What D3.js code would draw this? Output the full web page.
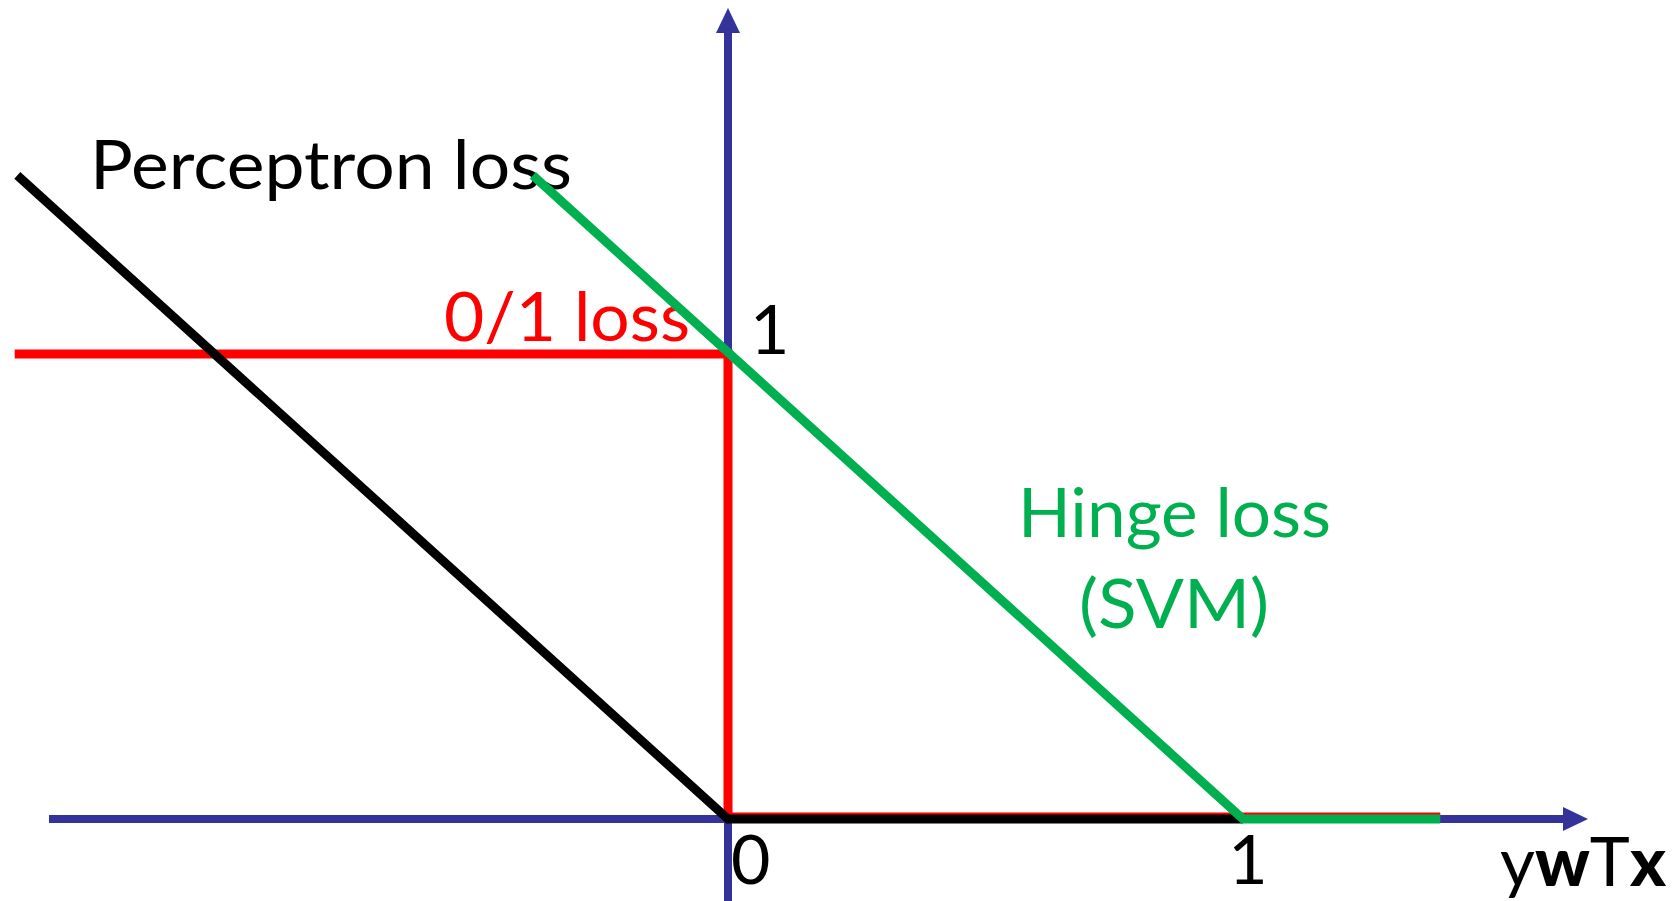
<!DOCTYPE html>
<html>
<head>
<meta charset="utf-8">
<script src="https://cdn.jsdelivr.net/npm/d3@7"></script>
<style>
  html, body { margin: 0; padding: 0; background: #fff; overflow: hidden; }
  svg text { font-family: Lato, "Open Sans", sans-serif; }
</style>
</head>
<body>
<div id="chart"></div>
<script>
// loss curves (x = y*w^T*x, y = loss)
const perceptronLoss = [{x: -1.38, y: 1.39}, {x: 0, y: 0}, {x: 1, y: 0}];
const zeroOneLoss = [{x: -1.385, y: 1}, {x: 0, y: 1}, {x: 0, y: 0}, {x: 1.383, y: 0}];
const hingeLoss = [{x: -0.379, y: 1.39}, {x: 1, y: 0}, {x: 1.383, y: 0}];
const xTicks = [0, 1];
const yTicks = [1];

const width = 1679;
const height = 901;
const axisColor = "#333399";

const svg = d3.select("#chart").append("svg")
    .attr("width", width)
    .attr("height", height);

// origin sits at (728, 819), one unit is 515px across and 463px up
const x = d3.scaleLinear().domain([0, 1]).range([728, 1243]);
const y = d3.scaleLinear().domain([0, 1]).range([819, 356]);

// text labels go under the lines (the green line crosses them)
const labels = svg.append("g").attr("font-size", 68);

labels.append("text")
    .attr("x", 90).attr("y", 189)
    .attr("textLength", 482).attr("lengthAdjust", "spacingAndGlyphs")
    .attr("fill", "#000")
    .text("Perceptron loss");

labels.append("text")
    .attr("x", 444).attr("y", 341)
    .attr("textLength", 246).attr("lengthAdjust", "spacingAndGlyphs")
    .attr("fill", "#ff0000")
    .text("0/1 loss");

labels.append("text")
    .attr("x", 1018).attr("y", 537)
    .attr("textLength", 313).attr("lengthAdjust", "spacingAndGlyphs")
    .attr("fill", "#00b050")
    .text("Hinge loss");

labels.append("text")
    .attr("x", 1079).attr("y", 628)
    .attr("textLength", 190).attr("lengthAdjust", "spacingAndGlyphs")
    .attr("fill", "#00b050")
    .text("(SVM)");

// tick labels
labels.selectAll(".xtick")
    .data(xTicks)
    .join("text")
    .attr("class", "xtick")
    .attr("x", d => d === 0 ? x(d) + 3 : x(d) + 5)
    .attr("y", 884)
    .attr("text-anchor", d => d === 0 ? "start" : "middle")
    .attr("fill", "#000")
    .text(d => d);

labels.selectAll(".ytick")
    .data(yTicks)
    .join("text")
    .attr("class", "ytick")
    .attr("x", x(0) + 22)
    .attr("y", y(1) - 2)
    .attr("fill", "#000")
    .text(d => d);

const axisLabel = labels.append("text")
    .attr("x", 1500).attr("y", 886)
    .attr("textLength", 166).attr("lengthAdjust", "spacingAndGlyphs")
    .attr("fill", "#000");
axisLabel.append("tspan").text("y");
axisLabel.append("tspan").attr("font-weight", 900).text("w");
axisLabel.append("tspan").text("T");
axisLabel.append("tspan").attr("font-weight", 900).text("x");

// axes with arrow heads
const axes = svg.append("g");
axes.append("line")
    .attr("x1", 49).attr("y1", y(0))
    .attr("x2", 1566).attr("y2", y(0))
    .attr("stroke", axisColor).attr("stroke-width", 8);
axes.append("path")
    .attr("d", `M1588,${y(0)} L1563,${y(0) - 12} L1563,${y(0) + 12} Z`)
    .attr("fill", axisColor);

axes.append("line")
    .attr("x1", x(0)).attr("y1", height)
    .attr("x2", x(0)).attr("y2", 30)
    .attr("stroke", axisColor).attr("stroke-width", 8);
axes.append("path")
    .attr("d", `M${x(0)},8 L${x(0) - 12},33 L${x(0) + 12},33 Z`)
    .attr("fill", axisColor);

// loss curves, small vertical nudges keep the overlapping flat parts visible
const line = d3.line().x(d => x(d.x)).y(d => y(d.y));
const series = [
    {data: zeroOneLoss, color: "#ff0000", dy: -2},
    {data: perceptronLoss, color: "#000000", dy: 0},
    {data: hingeLoss, color: "#00b050", dy: 0}
];

svg.append("g")
    .selectAll("path")
    .data(series)
    .join("path")
    .attr("transform", d => `translate(0,${d.dy})`)
    .attr("d", d => line(d.data))
    .attr("fill", "none")
    .attr("stroke", d => d.color)
    .attr("stroke-width", 9)
    .attr("stroke-linejoin", "miter")
    .attr("stroke-linecap", "butt");
</script>
</body>
</html>
